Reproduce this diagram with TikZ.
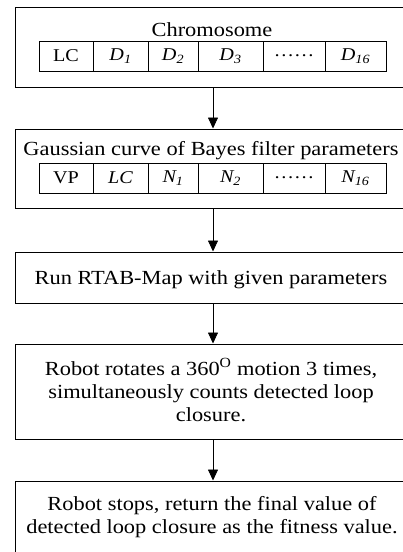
\documentclass[tikz,border=0pt]{standalone}
\usepackage{fontspec}
\setmainfont{Liberation Serif}[FakeStretch=1.12]
\usetikzlibrary{arrows.meta}
\begin{document}
\begin{tikzpicture}[x=1pt,y=-1pt,
  box/.style={draw, line width=1pt, minimum width=396pt, inner sep=0pt, align=center, font=\fontsize{20}{23}\selectfont},
  cell/.style={draw, line width=0.9pt, minimum height=30pt, inner sep=0pt, font=\fontsize{18}{20}\selectfont},
  title/.style={inner sep=0pt, align=center, font=\fontsize{20}{23}\selectfont},
  flow/.style={-{Triangle[length=11pt,width=10pt]}, line width=0.8pt}]
\useasboundingbox (0,0) rectangle (402,552);
% box 1
\node[box, minimum height=80pt] (b1) at (213,47) {};
\node[title] (t1) at (212,30) {Chromosome};
\node[cell, minimum width=54pt] (c11) at (66,56) {LC};
\node[cell, minimum width=55pt] (c12) at (120.5,56) {\textit{D\textsubscript{1}}};
\node[cell, minimum width=50pt] (c13) at (173,56) {\textit{D\textsubscript{2}}};
\node[cell, minimum width=65pt] (c14) at (230.5,56) {\textit{D\textsubscript{3}}};
\node[cell, minimum width=62pt] (c15) at (294,56) {……};
\node[cell, minimum width=61pt] (c16) at (355.5,56) {\textit{D\textsubscript{16}}};
% box 2
\node[box, minimum height=79pt] (b2) at (213,168.5) {};
\node[title] (t2) at (211,151) {Gaussian curve of Bayes filter parameters};
\node[cell, minimum width=54pt] (c21) at (66,178) {VP};
\node[cell, minimum width=55pt] (c22) at (120.5,178) {\textit{LC}};
\node[cell, minimum width=50pt] (c23) at (173,178) {\textit{N\textsubscript{1}}};
\node[cell, minimum width=65pt] (c24) at (230.5,178) {\textit{N\textsubscript{2}}};
\node[cell, minimum width=62pt] (c25) at (294,178) {……};
\node[cell, minimum width=61pt] (c26) at (355.5,178) {\textit{N\textsubscript{16}}};
% box 3
\node[box, minimum height=51pt] (b3) at (213,277.5) {};
\node[title] (t3) at (211,280) {Run RTAB-Map with given parameters};
% box 4
\node[box, minimum height=95pt] (b4) at (213,391.5) {};
\node[title] (t4) at (211,390) {Robot rotates a 360\textsuperscript{O} motion 3 times,\\simultaneously counts detected loop\\closure.};
% box 5
\node[box, minimum height=80pt] (b5) at (213,521) {};
\node[title] (t5) at (212,517) {Robot stops, return the final value of\\detected loop closure as the fitness value.};
% connectors
\draw[flow] (b1) -- (b2);
\draw[flow] (b2) -- (b3);
\draw[flow] (b3) -- (b4);
\draw[flow] (b4) -- (b5);
\end{tikzpicture}
\end{document}
